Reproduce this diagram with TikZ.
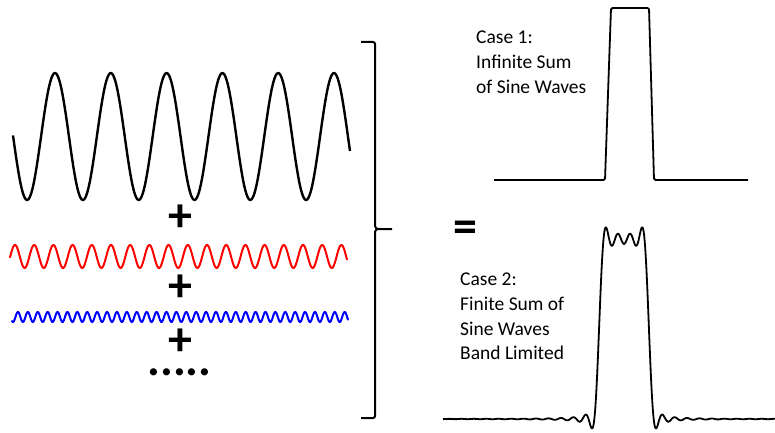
\documentclass[tikz,border=0pt]{standalone}
\usepackage{fontspec}
\setmainfont{Carlito}
\begin{document}
\begin{tikzpicture}[x=1pt,y=1pt,
  wave/.style={line width=2pt, line join=round, line cap=round},
  bigwave/.style={line width=2.4pt, line join=round},
  pulse/.style={line width=1.8pt, line join=round},
  bracketline/.style={line width=2pt},
  signtext/.style={font=\bfseries\fontsize{48}{48}\selectfont, inner sep=0pt},
  caselabel/.style={font=\fontsize{19.5}{24.7}\selectfont, inner sep=0pt, anchor=base west}]
\useasboundingbox (0,0) rectangle (775,432);
% Gibbs sum coefficients (partly smoothed)
\gdef\gsum{0.1}
\foreach \n in {1,...,40}{%
  \pgfmathsetmacro\sg{(sin(180*\n/41)/(pi*\n/41))^0.2}%
  \pgfmathsetmacro\an{2*sin(18*\n)/(\n*pi)*\sg}%
  \xdef\gsum{\unexpanded\expandafter{\gsum}+(\an)*cos(\n*0.72*(\noexpand\x-624))}%
}
% waves
\draw[bigwave] plot[domain=13:350, samples=300, smooth] (\x, {295.5 + 63.5*cos(6.4516*(\x-55))});
\draw[wave, red] plot[domain=10:347, samples=500, smooth] (\x, {175.5 + 11.5*cos(18.75*(\x-15))});
\draw[wave, blue] plot[domain=12:348, samples=700, smooth] (\x, {115 - 5*cos(36.3636*(\x-13))});
% signs
\node[signtext] (plus1) at (180,214) {+};
\node[signtext] (plus2) at (180,144) {+};
\node[signtext] (plus3) at (180,90) {+};
\node[signtext] (dots) at (179.5,60) {.....};
\node[signtext] (eq) at (465.5,200) {=};
% bracket
\draw[bracketline, rounded corners=2pt] (361,390) -- (375,390) -- (375,208);
\draw[bracketline] (375,208) .. controls (375,204) and (376,203) .. (380,203) -- (392,203);
\draw[bracketline] (380,203) .. controls (376,203) and (375,202) .. (375,198);
\draw[bracketline, rounded corners=2pt] (375,198) -- (375,14) -- (361,14);
% case 1 pulse
\draw[pulse, rounded corners=1.5pt] (494,252) -- (605,252) -- (611,424) -- (649,424) -- (654,252) -- (748,252);
% case 2 pulse
\draw[pulse] plot[domain=443:775, samples=500, smooth] (\x, {13 + 180*(\gsum)});
% labels
\node[caselabel] (case1) at (476,388) {\begin{tabular}[t]{@{}l@{}}Case 1:\\Infinite Sum\\of Sine Waves\end{tabular}};
\node[caselabel] (case2) at (460,146.3) {\begin{tabular}[t]{@{}l@{}}Case 2:\\Finite Sum of\\Sine Waves\\Band Limited\end{tabular}};
\end{tikzpicture}
\end{document}
